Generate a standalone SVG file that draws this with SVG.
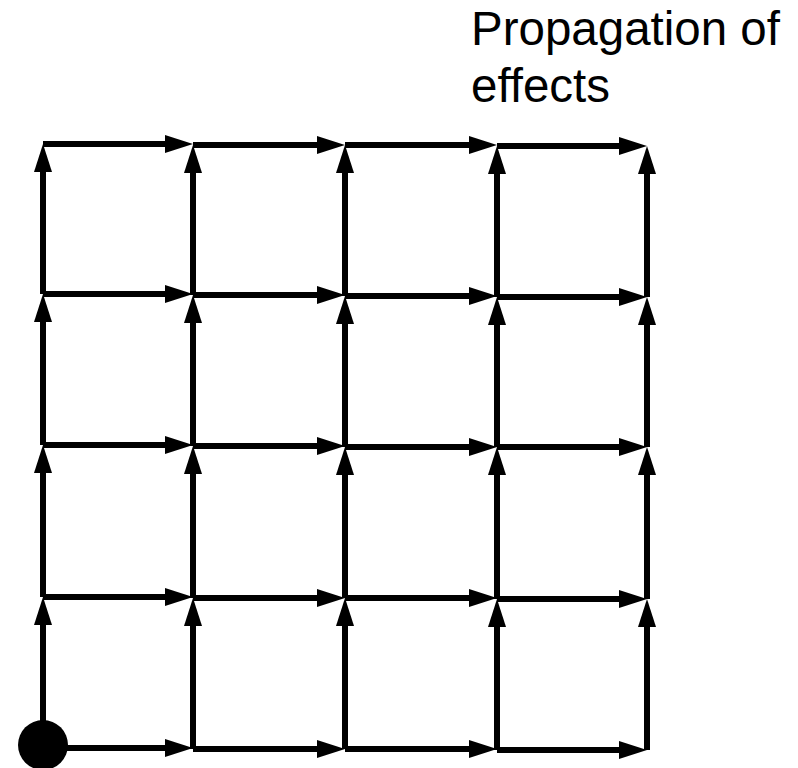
<svg xmlns="http://www.w3.org/2000/svg" width="798" height="768" viewBox="0 0 798 768">
<style>
.e{stroke:#000;stroke-width:6;fill:none;marker-end:url(#ah)}
.t{font-family:"Liberation Sans",Arial,sans-serif;font-size:47.5px;fill:#000}
</style>
<defs>
<marker id="ah" markerUnits="userSpaceOnUse" markerWidth="28" markerHeight="18" viewBox="0 0 28 18" refX="18" refY="9" orient="auto">
<path d="M0,0 L28,9 L0,18 z" fill="#000"/>
</marker>
</defs>
<rect width="798" height="768" fill="#fff"/>
<g id="label">
<text class="t" x="471" y="45">Propagation of</text>
<text class="t" x="471" y="102">effects</text>
</g>
<g id="connectors">
<path class="e" d="M43,144H183"/><path class="e" d="M193,145H335"/><path class="e" d="M345,145H487"/><path class="e" d="M497,146H637"/>
<path class="e" d="M43,294H183"/><path class="e" d="M193,295H335"/><path class="e" d="M345,296H487"/><path class="e" d="M497,297H637"/>
<path class="e" d="M43,445H183"/><path class="e" d="M193,446H335"/><path class="e" d="M345,447H487"/><path class="e" d="M497,447H637"/>
<path class="e" d="M43,597H183"/><path class="e" d="M193,598H335"/><path class="e" d="M345,598H487"/><path class="e" d="M497,599H637"/>
<path class="e" d="M43,748H183"/><path class="e" d="M193,749H335"/><path class="e" d="M345,749H487"/><path class="e" d="M497,750H637"/>
<path class="e" d="M43,294V154"/><path class="e" d="M193,295V155"/><path class="e" d="M345,296V155"/><path class="e" d="M497,297V156"/><path class="e" d="M647,297V156"/>
<path class="e" d="M43,445V304"/><path class="e" d="M193,446V305"/><path class="e" d="M345,447V306"/><path class="e" d="M497,447V307"/><path class="e" d="M647,447V307"/>
<path class="e" d="M43,597V455"/><path class="e" d="M193,598V456"/><path class="e" d="M345,598V457"/><path class="e" d="M497,599V457"/><path class="e" d="M647,599V457"/>
<path class="e" d="M43,748V607"/><path class="e" d="M193,749V608"/><path class="e" d="M345,749V608"/><path class="e" d="M497,750V609"/><path class="e" d="M647,750V609"/>
</g>
<g id="origin">
<circle cx="43" cy="745" r="25" fill="#000"/>
</g>
</svg>
